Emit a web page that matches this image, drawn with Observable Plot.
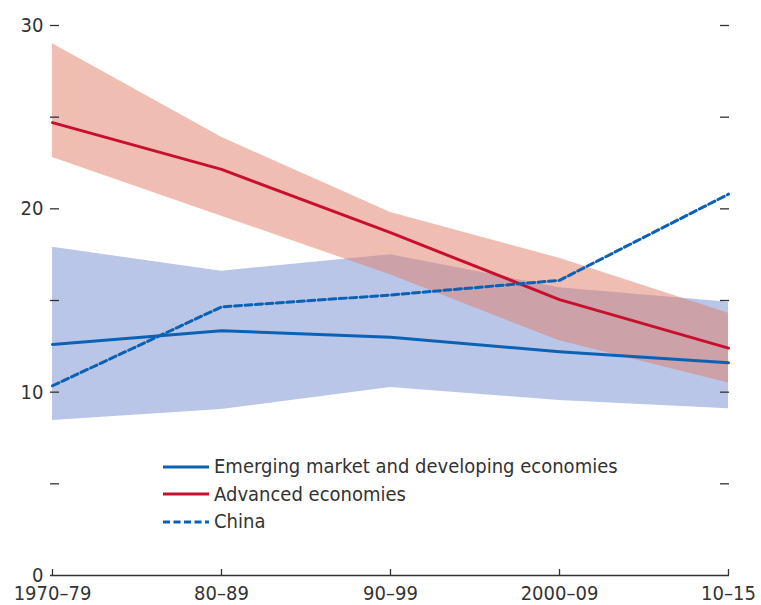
<!DOCTYPE html>
<html>
<head>
<meta charset="utf-8">
<script src="https://cdn.jsdelivr.net/npm/d3@7"></script>
<script src="https://cdn.jsdelivr.net/npm/@observablehq/plot@0.6"></script>
<style>
  body { margin: 0; background: #fff; }
  #wrap { position: relative; width: 761px; height: 605px; font-family: "Liberation Sans Narrow", "Arial Narrow", "DejaVu Sans Condensed", sans-serif; color: #333; }
  #legend { position: absolute; left: 163px; top: 453px; font-size: 20px; line-height: 27.5px; }
  .row { display: flex; align-items: center; white-space: nowrap; }
  .row svg { margin-right: 5px; }
</style>
</head>
<body>
<div id="wrap"></div>
<script>
const periods = ["1970–79", "80–89", "90–99", "2000–09", "10–15"];
const advanced = [24.7, 22.15, 18.7, 15.05, 12.4];
const advancedLow = [22.8, 19.6, 16.4, 12.8, 10.5];
const advancedHigh = [29.0, 23.9, 19.8, 17.3, 14.3];
const emde = [12.6, 13.35, 13.0, 12.2, 11.6];
const emdeLow = [8.45, 9.05, 10.25, 9.55, 9.1];
const emdeHigh = [17.9, 16.6, 17.5, 15.7, 14.9];
const china = [10.35, 14.65, 15.3, 16.1, 20.8];
const labelTicks = [0, 10, 20, 30];
const allTicks = [5, 10, 15, 20, 25, 30];
const seriesNames = ["Emerging market and developing economies", "Advanced economies", "China"];

const blue = "#0b62b5", red = "#c8102e";
const rows = periods.map((p, i) => ({
  p, adv: advanced[i], advLo: advancedLow[i], advHi: advancedHigh[i],
  em: emde[i], emLo: emdeLow[i], emHi: emdeHigh[i], cn: china[i]
}));

const W = 761, H = 605, mL = 50, mR = 32, mT = 25, mB = 30;
const pw = W - mL - mR, ph = H - mT - mB;

const chart = Plot.plot({
  width: W, height: H,
  marginLeft: mL, marginRight: mR, marginTop: mT, marginBottom: mB,
  style: { fontFamily: "'Liberation Sans Narrow', 'Arial Narrow', 'DejaVu Sans Condensed', sans-serif", color: "#333", background: "#fff" },
  x: { type: "point", domain: periods, padding: 0 },
  y: { domain: [0, 30] },
  marks: [
    Plot.areaY(rows, { x: "p", y1: "emLo", y2: "emHi", fill: "#b9c6e8" }),
    Plot.areaY(rows, { x: "p", y1: "advLo", y2: "advHi", fill: "#e07b66", fillOpacity: 0.5 }),
    Plot.lineY(rows, { x: "p", y: "em", stroke: blue, strokeWidth: 3 }),
    Plot.lineY(rows, { x: "p", y: "adv", stroke: red, strokeWidth: 3 }),
    Plot.lineY(rows, { x: "p", y: "cn", stroke: blue, strokeWidth: 3, strokeDasharray: "7,3.5" }),
    Plot.ruleY([0], { stroke: "#333", strokeWidth: 1.3 }),
    Plot.tickY(allTicks, { y: d => d, insetRight: pw - 9, stroke: "#333", strokeWidth: 1.3 }),
    Plot.tickY(allTicks, { y: d => d, insetLeft: pw - 9, stroke: "#333", strokeWidth: 1.3 }),
    Plot.tickX(periods, { x: d => d, insetTop: ph - 6, stroke: "#333", strokeWidth: 1.3 }),
    Plot.axisY({ ticks: labelTicks, tickSize: 0, tickPadding: 7, fontSize: 20, label: null }),
    Plot.axisX({ tickSize: 0, tickPadding: 10, fontSize: 20, label: null })
  ]
});

const wrap = document.getElementById("wrap");
wrap.appendChild(chart);

const legend = document.createElement("div");
legend.id = "legend";
const styles = [{ c: blue, d: null }, { c: red, d: null }, { c: blue, d: "7,3.5" }];
seriesNames.forEach((name, i) => {
  const row = document.createElement("div");
  row.className = "row";
  const s = styles[i];
  row.innerHTML = `<svg width="46" height="6"><line x1="0" x2="46" y1="3" y2="3" stroke="${s.c}" stroke-width="3" ${s.d ? `stroke-dasharray="${s.d}"` : ""}/></svg><span>${name}</span>`;
  legend.appendChild(row);
});
wrap.appendChild(legend);
</script>
</body>
</html>
